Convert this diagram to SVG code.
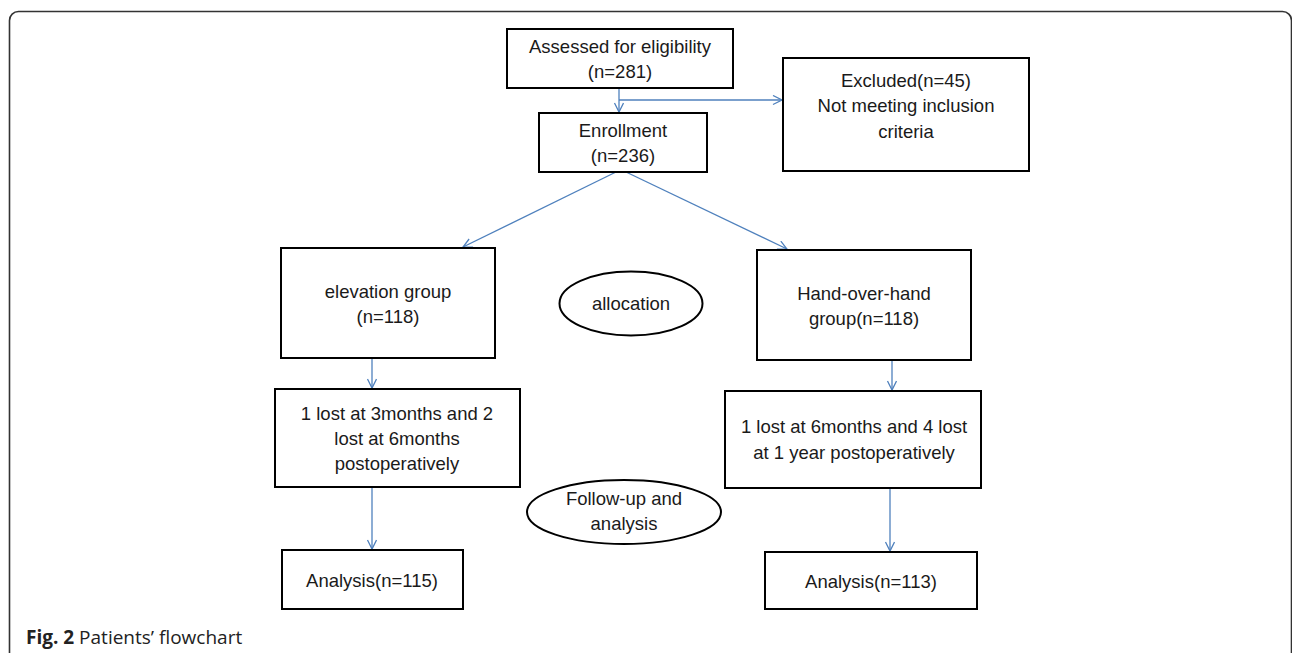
<svg xmlns="http://www.w3.org/2000/svg" width="1292" height="653" viewBox="0 0 1292 653">
<defs>
<style>
.box{fill:#fff;stroke:#000;stroke-width:2}
.t{font-family:"Liberation Sans",Arial,sans-serif;font-size:18.5px;fill:#1a1a1a;text-anchor:middle}
.c{fill:none;stroke:#4f81bd;stroke-width:1.3}
</style>
<marker id="ah" markerWidth="12" markerHeight="12" refX="10" refY="5" orient="auto" markerUnits="userSpaceOnUse">
<path d="M1,0.5 L10,5 L1,9.5" fill="none" stroke="#4f81bd" stroke-width="1.3"/>
</marker>
</defs>
<rect width="1292" height="653" fill="#fff"/>
<rect x="9.5" y="11.5" width="1282" height="700" rx="9" fill="none" stroke="#333" stroke-width="1.6"/>
<g id="connectors">
<line class="c" x1="619" y1="88" x2="619" y2="112" marker-end="url(#ah)"/>
<line class="c" x1="619" y1="100" x2="782" y2="100" marker-end="url(#ah)"/>
<line class="c" x1="616" y1="172" x2="463" y2="247" marker-end="url(#ah)"/>
<line class="c" x1="626" y1="172" x2="787" y2="249" marker-end="url(#ah)"/>
<line class="c" x1="372" y1="358" x2="372" y2="388" marker-end="url(#ah)"/>
<line class="c" x1="892" y1="360" x2="892" y2="390" marker-end="url(#ah)"/>
<line class="c" x1="372" y1="487" x2="372" y2="549" marker-end="url(#ah)"/>
<line class="c" x1="890" y1="488" x2="890" y2="551" marker-end="url(#ah)"/>
</g>
<g id="assessed">
<rect class="box" x="507" y="29" width="226" height="59"/>
<text class="t" x="620" y="53">Assessed for eligibility</text>
<text class="t" x="620" y="78">(n=281)</text>
</g>
<g id="excluded">
<rect class="box" x="783" y="58" width="246" height="113"/>
<text class="t" x="906" y="87">Excluded(n=45)</text>
<text class="t" x="906" y="112">Not meeting inclusion</text>
<text class="t" x="906" y="138">criteria</text>
</g>
<g id="enrollment">
<rect class="box" x="539" y="113" width="168" height="59"/>
<text class="t" x="623" y="137">Enrollment</text>
<text class="t" x="623" y="162">(n=236)</text>
</g>
<g id="elevation">
<rect class="box" x="281" y="248" width="214" height="110"/>
<text class="t" x="388" y="298">elevation group</text>
<text class="t" x="388" y="323">(n=118)</text>
</g>
<g id="allocation">
<ellipse cx="631" cy="303.5" rx="71.5" ry="32" fill="#fff" stroke="#000" stroke-width="2"/>
<text class="t" x="631" y="310">allocation</text>
</g>
<g id="hand">
<rect class="box" x="757" y="250" width="214" height="110"/>
<text class="t" x="864" y="300">Hand-over-hand</text>
<text class="t" x="864" y="325">group(n=118)</text>
</g>
<g id="lost-left">
<rect class="box" x="275" y="389" width="245" height="98"/>
<text class="t" x="397" y="420">1 lost at 3months and 2</text>
<text class="t" x="397" y="445">lost at 6months</text>
<text class="t" x="397" y="470">postoperatively</text>
</g>
<g id="lost-right">
<rect class="box" x="725" y="391" width="256" height="97"/>
<text class="t" x="854" y="433">1 lost at 6months and 4 lost</text>
<text class="t" x="854" y="459">at 1 year postoperatively</text>
</g>
<g id="followup">
<ellipse cx="624" cy="512" rx="97" ry="32" fill="#fff" stroke="#000" stroke-width="2"/>
<text class="t" x="624" y="505">Follow-up and</text>
<text class="t" x="624" y="530">analysis</text>
</g>
<g id="analysis-left">
<rect class="box" x="282" y="550" width="181" height="59"/>
<text class="t" x="372" y="587">Analysis(n=115)</text>
</g>
<g id="analysis-right">
<rect class="box" x="765" y="552" width="212" height="57"/>
<text class="t" x="871" y="588">Analysis(n=113)</text>
</g>
<text x="26" y="644" style="font-family:'Open Sans','Noto Sans',sans-serif;font-size:19px;fill:#222"><tspan font-weight="bold">Fig. 2</tspan> Patients’ flowchart</text>
</svg>
